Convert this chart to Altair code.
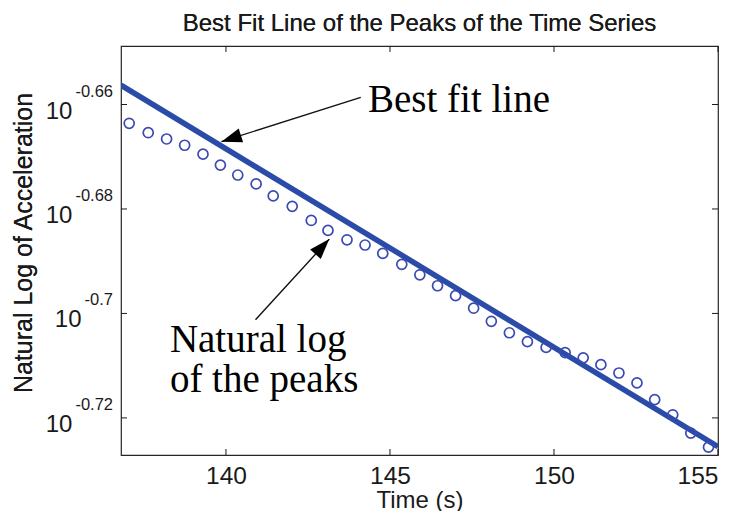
import math
import altair as alt
import pandas as pd

# ---------------- data ----------------
peak_time = [137.05, 137.63, 138.19, 138.74, 139.30, 139.83, 140.36, 140.92, 141.44, 142.02,
             142.60, 143.11, 143.69, 144.24, 144.78, 145.36, 145.91, 146.45, 147.00, 147.55,
             148.09, 148.64, 149.19, 149.76, 150.34, 150.89, 151.43, 151.98, 152.53, 153.07,
             153.62, 154.17, 154.71]
peak_log10 = [-0.6636, -0.6654, -0.6666, -0.6678, -0.6695, -0.6716, -0.6735, -0.6752, -0.6775, -0.6795,
              -0.6822, -0.6841, -0.6859, -0.6869, -0.6885, -0.6906, -0.6926, -0.6947, -0.6966, -0.6990,
              -0.7015, -0.7037, -0.7054, -0.7065, -0.7075, -0.7085, -0.7098, -0.7114, -0.7133, -0.7165,
              -0.7194, -0.7229, -0.7256]

fit_time = [136.8, 155.0]
fit_log10 = [-0.6563, -0.7255]

x_domain = [136.8, 155.0]
y_log10_domain = [-0.7271, -0.6488]
x_ticks = [140, 145, 150, 155]
y_tick_log10 = [-0.66, -0.68, -0.70, -0.72]
y_tick_text = ["-0.66", "-0.68", "-0.7", "-0.72"]

note_text = ["Best fit line", "Natural log\nof the peaks"]
note_time = [144.33, 138.29]
note_log10 = [-0.66143, -0.70732]
arrow_from_time = [144.11, 140.90]
arrow_from_log10 = [-0.65862, -0.70120]
arrow_to_time = [139.86, 143.15]
arrow_to_log10 = [-0.66711, -0.68577]

title_text = "Best Fit Line of the Peaks of the Time Series"
x_title = "Time (s)"
y_title = "Natural Log of Acceleration"

# ---------------- styling ----------------
W, H = 597, 409
SANS = "Liberation Sans, Arial, sans-serif"
SERIF = "Liberation Serif, Times New Roman, serif"
LINE_BLUE = "#2b4ba8"
DOT_BLUE = "#3a4ab2"
INK = "#1a1a1a"
EXP_SIZE = 16.5
TEN_SIZE = 24


def to_px(t, e):
    x = (t - x_domain[0]) / (x_domain[1] - x_domain[0]) * W
    y = (y_log10_domain[1] - e) / (y_log10_domain[1] - y_log10_domain[0]) * H
    return x, y


def text_width(s, size):
    em = {"-": 0.333, ".": 0.278}
    return sum(em.get(c, 0.556) for c in s) * size


xscale = alt.Scale(domain=x_domain, nice=False, zero=False)
yscale = alt.Scale(type="log", domain=[10 ** v for v in y_log10_domain], nice=False)

X = alt.X("t:Q", scale=xscale,
          axis=alt.Axis(values=x_ticks, format="d", ticks=False, tickSize=0, domain=False, grid=False,
                        labelFont=SANS, labelFontSize=24.5, labelColor=INK, labelPadding=9,
                        title=x_title, titleFont=SANS, titleFontSize=24, titleFontWeight="normal",
                        titleColor=INK, titleBaseline="alphabetic", titleY=52))
Y = alt.Y("acc:Q", scale=yscale, axis=None)

peaks = pd.DataFrame({"t": peak_time, "acc": [10 ** v for v in peak_log10]})
fit = pd.DataFrame({"t": fit_time, "acc": [10 ** v for v in fit_log10]})

ticks_df = pd.DataFrame({
    "acc": [10 ** v for v in y_tick_log10],
    "exp": y_tick_text,
    "tenx": [-8 - text_width(s, EXP_SIZE) - 3 for s in y_tick_text],
})
xt = pd.DataFrame({"t": x_ticks})

angles = []
for ft, fl, tt, tl in zip(arrow_from_time, arrow_from_log10, arrow_to_time, arrow_to_log10):
    x0, y0 = to_px(ft, fl)
    x1, y1 = to_px(tt, tl)
    angles.append(math.degrees(math.atan2(x1 - x0, -(y1 - y0))) % 360)

arrows = pd.DataFrame({
    "t": arrow_from_time, "acc": [10 ** v for v in arrow_from_log10],
    "t2": arrow_to_time, "acc2": [10 ** v for v in arrow_to_log10],
})
heads = pd.DataFrame({"t": arrow_to_time, "acc": [10 ** v for v in arrow_to_log10], "ang": angles})
notes = pd.DataFrame({"t": note_time, "acc": [10 ** v for v in note_log10], "label": note_text})

line_layer = alt.Chart(fit).mark_line(color=LINE_BLUE, strokeWidth=5.5, clip=True).encode(x=X, y=Y)
dots = alt.Chart(peaks).mark_point(shape="circle", filled=False, size=100, strokeWidth=1.7,
                                   color=DOT_BLUE, opacity=1).encode(x=X, y=Y)

# inward ticks (MATLAB style)
xtick_bottom = alt.Chart(xt).mark_rule(color=INK, strokeWidth=1).encode(
    x=X, y=alt.value(H), y2=alt.value(H - 6))
xtick_top = alt.Chart(xt).mark_rule(color=INK, strokeWidth=1).encode(
    x=X, y=alt.value(0), y2=alt.value(6))
ytick_left = alt.Chart(ticks_df).mark_rule(color=INK, strokeWidth=1).encode(
    y=Y, x=alt.value(0), x2=alt.value(6))
ytick_right = alt.Chart(ticks_df).mark_rule(color=INK, strokeWidth=1).encode(
    y=Y, x=alt.value(W), x2=alt.value(W - 6))

ten_labels = alt.Chart(ticks_df).mark_text(
    text="10", font=SANS, fontSize=TEN_SIZE, color=INK, align="right", baseline="alphabetic", dy=14
).encode(y=Y, x=alt.X("tenx:Q", scale=None))
exp_labels = alt.Chart(ticks_df).mark_text(
    font=SANS, fontSize=EXP_SIZE, color=INK, align="right", baseline="alphabetic", dy=-8
).encode(y=Y, x=alt.value(-8), text="exp:N")

shafts = alt.Chart(arrows).mark_rule(color="#111111", strokeWidth=1.4).encode(
    x=X, y=Y, x2="t2:Q", y2="acc2:Q")
arrowheads = alt.Chart(heads).mark_point(
    shape="M0,0 L-0.7,2 L0.7,2 Z", size=420, filled=True, color="#000000", opacity=1, strokeWidth=0
).encode(x=X, y=Y, angle=alt.Angle("ang:Q", scale=None))
note_labels = alt.Chart(notes).mark_text(
    font=SERIF, fontSize=39, color="#000000", align="left", baseline="alphabetic",
    lineBreak="\n", lineHeight=40
).encode(x=X, y=Y, text="label:N")

title_layer = alt.Chart(fit).mark_text(
    text=title_text, font=SANS, fontSize=24, color=INK, align="center", baseline="alphabetic"
).encode(x=alt.value(W / 2), y=alt.value(-15))
ytitle_layer = alt.Chart(fit).mark_text(
    text=y_title, font=SANS, fontSize=25, color=INK, align="center", baseline="alphabetic", angle=270
).encode(x=alt.value(-89), y=alt.value(197))

chart = alt.layer(
    line_layer, dots, xtick_bottom, xtick_top, ytick_left, ytick_right,
    ten_labels, exp_labels, shafts, arrowheads, note_labels, title_layer, ytitle_layer
).properties(
    width=W, height=H,
    autosize=alt.AutoSizeParams(type="none"),
    padding={"left": 113, "top": 38, "right": 8, "bottom": 56},
    background="white",
).configure_view(stroke="#262626", strokeWidth=1.2)

chart.save("out.html", embed_options={"renderer": "svg", "actions": False})
